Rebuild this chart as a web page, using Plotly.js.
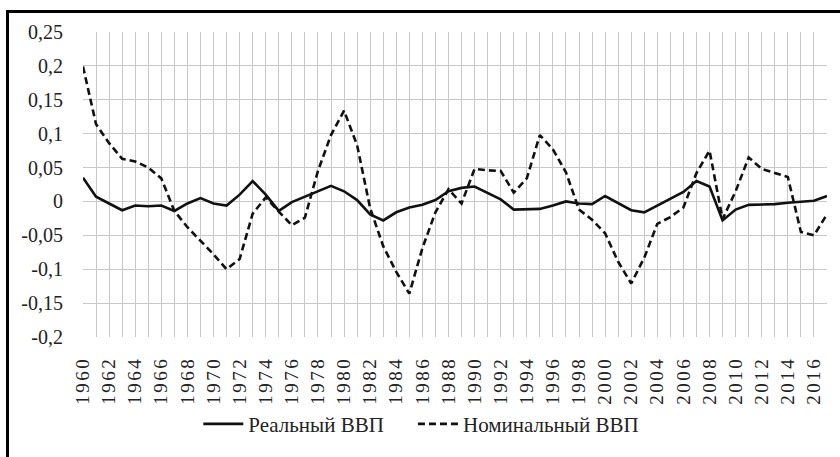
<!DOCTYPE html>
<html>
<head>
<meta charset="utf-8">
<script src="https://cdn.plot.ly/plotly-3.0.1.min.js"></script>
<style>
  html, body { margin: 0; padding: 0; background: #ffffff; }
  #wrap { position: relative; width: 840px; height: 457px; overflow: hidden; background: #fff; }
  #chart { position: absolute; left: 0; top: 0; width: 840px; height: 457px; }
  #btop { position: absolute; left: 6px; top: 10px; width: 834px; height: 3px; background: #000; }
  #bleft { position: absolute; left: 6px; top: 10px; width: 3px; height: 447px; background: #000; }
  #chart .xtick text { letter-spacing: 2.5px; }
</style>
</head>
<body>
<div id="wrap">
  <div id="chart"></div>
  <div id="btop"></div>
  <div id="bleft"></div>
</div>
<script>
const years = [];
for (let y = 1960; y <= 2017; y++) years.push(y);

const seriesNames = ["Реальный ВВП", "Номинальный ВВП"];

const realGDP = [
  0.035, 0.007, -0.003, -0.013, -0.006, -0.007, -0.006, -0.014, -0.003, 0.005,
  -0.003, -0.006, 0.010, 0.030, 0.010, -0.014, -0.001, 0.007, 0.015, 0.023,
  0.015, 0.002, -0.019, -0.028, -0.016, -0.009, -0.005, 0.002, 0.015, 0.020,
  0.022, 0.013, 0.003, -0.012, -0.012, -0.011, -0.006, 0.000, -0.003, -0.004,
  0.008, -0.003, -0.013, -0.016, -0.006, 0.003, 0.014, 0.030, 0.022, -0.028,
  -0.012, -0.005, -0.005, -0.004, -0.002, -0.001, 0.001, 0.008
];

const nominalGDP = [
  0.199, 0.114, 0.086, 0.063, 0.059, 0.050, 0.034, -0.014, -0.038, -0.058,
  -0.078, -0.100, -0.085, -0.018, 0.006, -0.015, -0.035, -0.024, 0.045, 0.098,
  0.134, 0.083, -0.010, -0.066, -0.104, -0.136, -0.069, -0.016, 0.018, -0.003,
  0.048, 0.046, 0.045, 0.013, 0.034, 0.098, 0.077, 0.043, -0.012, -0.027,
  -0.047, -0.089, -0.121, -0.083, -0.033, -0.023, -0.009, 0.042, 0.075, -0.026,
  0.015, 0.065, 0.048, 0.042, 0.036, -0.045, -0.050, -0.019
];

const yTickVals = [-0.2, -0.15, -0.1, -0.05, 0, 0.05, 0.1, 0.15, 0.2, 0.25];
const yTickText = ["-0,2", "-0,15", "-0,1", "-0,05", "0", "0,05", "0,1", "0,15", "0,2", "0,25"];

const font = "Times New Roman, Liberation Serif, serif";

const traces = [
  {
    x: years, y: realGDP, name: seriesNames[0], type: "scatter", mode: "lines",
    line: { color: "#111111", width: 2.6 }, legend: "legend"
  },
  {
    x: years, y: nominalGDP, name: seriesNames[1], type: "scatter", mode: "lines",
    line: { color: "#111111", width: 2.6, dash: "7px,4px" }, legend: "legend2"
  }
];

const legendBase = {
  orientation: "h", xanchor: "left", y: -0.286, yanchor: "middle",
  font: { family: font, size: 21, color: "#222222" },
  bgcolor: "rgba(0,0,0,0)", itemwidth: 40
};

const layout = {
  width: 840, height: 457,
  margin: { l: 83, r: 13, t: 32, b: 110 },
  paper_bgcolor: "rgba(0,0,0,0)",
  plot_bgcolor: "#ffffff",
  font: { family: font, color: "#222222" },
  showlegend: true,
  legend: Object.assign({}, legendBase, { x: 0.155 }),
  legend2: Object.assign({}, legendBase, { x: 0.4435 }),
  xaxis: {
    range: [1960, 2017],
    tickmode: "linear", tick0: 1960, dtick: 2,
    tickangle: -90,
    tickfont: { family: font, size: 19, color: "#222222" },
    showgrid: true, gridcolor: "#c8c8c8", gridwidth: 1,
    minor: { dtick: 1, tick0: 1960, showgrid: true, gridcolor: "#c8c8c8", gridwidth: 1 },
    zeroline: false, showline: false, ticks: "", ticklen: 0,
    ticklabelstandoff: 15
  },
  yaxis: {
    range: [-0.2, 0.25],
    tickmode: "array", tickvals: yTickVals, ticktext: yTickText,
    tickfont: { family: font, size: 20, color: "#222222" },
    showgrid: true, gridcolor: "#c8c8c8", gridwidth: 1,
    zeroline: false, showline: false, ticks: "",
    ticklabelstandoff: 19
  }
};

Plotly.newPlot("chart", traces, layout, { displayModeBar: false, staticPlot: true });
</script>
</body>
</html>
